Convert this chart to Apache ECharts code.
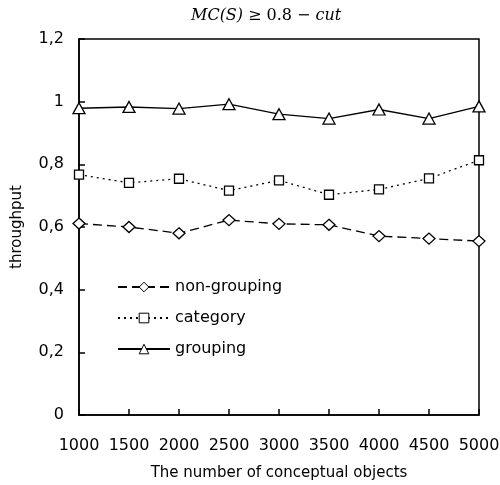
<!DOCTYPE html>
<html>
<head>
<meta charset="utf-8">
<script src="https://cdn.jsdelivr.net/npm/echarts@6/dist/echarts.min.js"></script>
<style>
  html, body { margin: 0; padding: 0; background: #fff; }
  #chart { width: 500px; height: 485px; }
</style>
</head>
<body>
<div id="chart"></div>
<script>
// x values (number of conceptual objects)
const objects = [1000, 1500, 2000, 2500, 3000, 3500, 4000, 4500, 5000]

// throughput per series
const nonGrouping = [0.611, 0.600, 0.580, 0.622, 0.610, 0.607, 0.571, 0.563, 0.555]
const category = [0.767, 0.741, 0.754, 0.716, 0.749, 0.703, 0.720, 0.755, 0.813]
const grouping = [0.979, 0.983, 0.978, 0.992, 0.960, 0.946, 0.975, 0.946, 0.985]

const pairs = (ys) => objects.map((x, i) => [x, ys[i]])

const chart = echarts.init(document.getElementById('chart'))

const markerStyle = { color: '#fff', borderColor: '#000', borderWidth: 1.3 }

chart.setOption({
  animation: false,
  backgroundColor: '#fff',
  title: {
    text: '{i|MC(S)} {n|≥ 0.8 −} {i|cut}',
    left: 186,
    top: 2,
    textStyle: {
      fontWeight: 'normal',
      rich: {
        i: { fontFamily: 'DejaVu Serif', fontStyle: 'italic', fontWeight: 'normal', fontSize: 16, color: '#000' },
        n: { fontFamily: 'DejaVu Serif', fontWeight: 'normal', fontSize: 16, color: '#000' },
      },
    },
  },
  grid: {
    left: 79, right: 21, top: 39, bottom: 70,
    outerBoundsMode: 'none',
    show: true, borderColor: '#000', borderWidth: 1.5, backgroundColor: '#fff',
  },
  legend: {
    orient: 'vertical',
    left: 112,
    top: 274,
    itemWidth: 52,
    itemHeight: 12,
    itemGap: 15,
    itemStyle: { borderWidth: 1 },
    textStyle: { fontFamily: 'DejaVu Sans', fontSize: 16, color: '#000' },
    data: ['non-grouping', 'category', 'grouping'],
  },
  xAxis: {
    type: 'value',
    min: 1000,
    max: 5000,
    interval: 500,
    name: 'The number of conceptual objects',
    nameLocation: 'middle',
    nameGap: 51,
    nameTextStyle: { fontFamily: 'DejaVu Sans', fontSize: 15, color: '#000' },
    axisLine: { lineStyle: { color: '#000', width: 1.5 } },
    axisTick: { inside: true, length: 6, lineStyle: { color: '#000', width: 1.5 } },
    axisLabel: {
      fontFamily: 'DejaVu Sans', fontSize: 16, color: '#000', margin: 23,
      formatter: (v) => String(v),
    },
    splitLine: { show: false },
  },
  yAxis: {
    type: 'value',
    min: 0,
    max: 1.2,
    interval: 0.2,
    name: 'throughput',
    nameLocation: 'middle',
    nameGap: 54,
    nameTextStyle: { fontFamily: 'DejaVu Sans', fontSize: 15, color: '#000' },
    axisLine: { lineStyle: { color: '#000', width: 1.5 } },
    axisTick: { inside: true, length: 6, lineStyle: { color: '#000', width: 1.5 } },
    axisLabel: {
      fontFamily: 'DejaVu Sans', fontSize: 16, color: '#000', margin: 15,
      formatter: (v) => String(Math.round(v * 10) / 10).replace('.', ','),
    },
    splitLine: { show: false },
  },
  series: [
    {
      name: 'non-grouping',
      type: 'line',
      data: pairs(nonGrouping),
      symbol: 'diamond',
      symbolSize: [12, 11],
      showAllSymbol: true,
      lineStyle: { color: '#000', width: 1.3, type: [9, 5] },
      itemStyle: markerStyle,
      z: 3,
    },
    {
      name: 'category',
      type: 'line',
      data: pairs(category),
      symbol: 'rect',
      symbolSize: 9,
      lineStyle: { color: '#000', width: 1.3, type: [2, 4] },
      itemStyle: markerStyle,
      z: 3,
    },
    {
      name: 'grouping',
      type: 'line',
      data: pairs(grouping),
      symbol: 'triangle',
      symbolSize: [12, 11],
      lineStyle: { color: '#000', width: 1.3 },
      itemStyle: markerStyle,
      z: 3,
    },
  ],
})
</script>
</body>
</html>
